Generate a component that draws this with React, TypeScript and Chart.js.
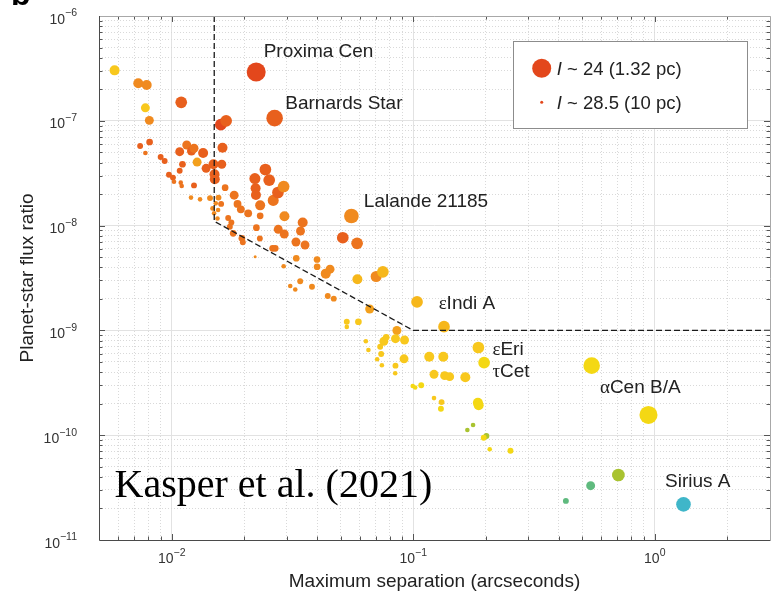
import React, { useEffect, useRef } from 'react';
import { Chart, registerables } from 'chart.js';

Chart.register(...registerables);

// ---- data (maximum separation in arcsec, planet/star flux ratio, planet I magnitude, host spectral class) ----
const separation = [
  0.0058, 0.00727, 0.00788, 0.00778, 0.00808, 0.01095, 0.0074, 0.0081, 0.00778, 0.009,
  0.00935, 0.00974, 0.01012, 0.01022, 0.01079, 0.01108, 0.01079, 0.01154, 0.01207, 0.01237,
  0.01349, 0.01274, 0.01388, 0.0109, 0.011, 0.01237, 0.01202, 0.0131, 0.01441, 0.01489,
  0.01504, 0.01508, 0.01597, 0.0168, 0.01623, 0.01612, 0.01664, 0.01562, 0.01522, 0.01475,
  0.01556, 0.01498, 0.01547, 0.01602, 0.01713, 0.01741, 0.01766, 0.01814, 0.01873, 0.01933,
  0.02073, 0.01797, 0.01952, 0.0197, 0.02216, 0.02238, 0.02668, 0.0221, 0.02225, 0.02232,
  0.02242, 0.02324, 0.02317, 0.02324, 0.02443, 0.02533, 0.02632, 0.02753, 0.02907, 0.02929,
  0.02761, 0.02924, 0.02617, 0.02683, 0.02907, 0.03269, 0.03414, 0.03486, 0.03564, 0.03279,
  0.03997, 0.04, 0.04525, 0.04343, 0.03096, 0.03248, 0.03404, 0.03809, 0.04427, 0.04688,
  0.05546, 0.05108, 0.05856, 0.05872, 0.07022, 0.07486, 0.066, 0.05307, 0.05307, 0.05929,
  0.1037, 0.08556, 0.1341, 0.07727, 0.07556, 0.08443, 0.09203, 0.06365, 0.07297, 0.06524,
  0.07366, 0.07089, 0.07416, 0.09159, 0.08443, 0.0842, 0.1165, 0.1332, 0.0995, 0.1019,
  0.1079, 0.1219, 0.131, 0.1302, 0.1861, 0.1965, 0.1219, 0.1349, 0.1415, 0.1643,
  0.1852, 0.1866, 0.1769, 0.1675, 0.2009, 0.1958, 0.2073, 0.2527, 0.548, 0.9417,
  0.7069, 0.5427, 0.4285, 1.315,
];

const fluxRatio = [
  3.03e-7, 2.28e-7, 2.2e-7, 1.33e-7, 1.01e-7, 1.5e-7, 5.75e-8, 6.28e-8, 4.93e-8, 4.51e-8,
  4.13e-8, 3.06e-8, 2.87e-8, 2.62e-8, 3.34e-8, 3.85e-8, 5.07e-8, 5.88e-8, 5.15e-8, 5.47e-8,
  4.93e-8, 4.04e-8, 3.52e-8, 2.57e-8, 2.39e-8, 2.42e-8, 1.85e-8, 1.78e-8, 1.83e-8, 3.85e-8,
  3.09e-8, 2.77e-8, 9.18e-8, 1.0e-7, 5.54e-8, 3.85e-8, 2.3e-8, 1.85e-8, 1.63e-8, 1.46e-8,
  1.41e-8, 1.31e-8, 1.17e-8, 1.61e-8, 1.18e-8, 9.76e-9, 1.07e-8, 1.95e-8, 1.61e-8, 1.43e-8,
  1.31e-8, 8.44e-9, 7.56e-9, 6.93e-9, 5.05e-9, 2.92e-7, 1.06e-7, 2.81e-8, 2.27e-8, 1.96e-8,
  9.55e-9, 1.56e-8, 7.53e-9, 1.24e-8, 3.43e-8, 2.72e-8, 1.74e-8, 2.07e-8, 2.36e-8, 1.23e-8,
  9.22e-9, 8.31e-9, 6.07e-9, 6.07e-9, 4.09e-9, 6.97e-9, 8.88e-9, 1.07e-8, 6.53e-9, 4.88e-9,
  4.75e-9, 4.05e-9, 3.84e-9, 3.48e-9, 2.65e-9, 2.46e-9, 2.94e-9, 2.61e-9, 2.13e-9, 2.01e-9,
  1.235e-8, 7.66e-9, 6.78e-9, 3.08e-9, 3.27e-9, 3.62e-9, 1.6e-9, 1.21e-9, 1.08e-9, 1.21e-9,
  1.87e-9, 9.98e-10, 1.085e-9, 8.59e-10, 7.87e-10, 8.33e-10, 8.1e-10, 7.87e-10, 6.99e-10, 6.5e-10,
  5.96e-10, 5.3e-10, 4.65e-10, 5.36e-10, 4.61e-10, 3.9e-10, 5.61e-10, 5.61e-10, 2.95e-10, 2.85e-10,
  3.0e-10, 2.26e-10, 2.07e-10, 1.79e-10, 6.87e-10, 4.92e-10, 3.81e-10, 3.7e-10, 3.62e-10, 3.57e-10,
  2.04e-10, 1.93e-10, 1.25e-10, 1.12e-10, 9.83e-11, 9.46e-11, 7.34e-11, 7.11e-11, 4.61e-10, 1.56e-10,
  4.17e-11, 3.3e-11, 2.36e-11, 2.19e-11,
];

const iMagnitude = [
  26.8, 26.8, 26.8, 27.1, 27.1, 26.3, 27.9, 27.7, 28.2, 27.9,
  27.9, 27.9, 27.9, 28.2, 27.9, 27.7, 27.1, 27.1, 27.1, 27.1,
  26.8, 27.1, 27.1, 28.2, 28.2, 27.9, 28.2, 28.2, 27.9, 26.8,
  26.8, 26.8, 26.3, 26.3, 26.8, 27.1, 27.7, 27.9, 28.2, 28.2,
  28.2, 28.2, 28.2, 27.9, 27.9, 27.9, 27.9, 27.1, 27.4, 27.4,
  27.4, 27.7, 27.7, 27.9, 28.5, 24.0, 24.8, 26.5, 26.8, 26.8,
  27.7, 26.8, 27.9, 27.7, 26.3, 26.3, 26.5, 26.3, 26.3, 26.8,
  27.1, 27.1, 27.7, 27.7, 28.2, 27.1, 27.1, 26.8, 27.1, 27.7,
  27.7, 27.7, 27.1, 26.8, 28.2, 28.2, 27.9, 27.9, 27.9, 27.9,
  25.4, 26.3, 26.3, 26.8, 26.5, 26.3, 27.1, 27.9, 28.2, 27.7,
  26.3, 27.1, 26.3, 27.7, 27.1, 27.1, 27.1, 28.2, 27.9, 28.2,
  27.9, 28.2, 28.2, 27.1, 27.9, 28.2, 26.8, 26.8, 28.2, 28.2,
  27.9, 28.2, 27.9, 27.9, 26.3, 26.3, 27.1, 27.1, 27.1, 26.8,
  26.8, 26.8, 28.2, 28.2, 27.9, 27.9, 28.2, 27.9, 24.8, 24.3,
  26.0, 27.1, 27.9, 25.4,
];

const spectralType = [
  'K2', 'M2', 'M2', 'K2', 'M2', 'M4', 'M4', 'M4', 'M3', 'M4',
  'M4', 'M4', 'M4', 'M3', 'M4', 'M4', 'M4', 'M3', 'M4', 'M3',
  'M4', 'M0', 'M4', 'M3', 'M3', 'M4', 'M2', 'M2', 'M2', 'M4',
  'M4', 'M4', 'M6', 'M4', 'M4', 'M4', 'M3', 'M2', 'M2', 'M2',
  'M2', 'M2', 'M2', 'M3', 'M3', 'M3', 'M3', 'M3', 'M3', 'M3',
  'M3', 'M3', 'M3', 'M3', 'M2', 'M6', 'M4', 'M4', 'M4', 'M4',
  'M3', 'M3', 'M3', 'M3', 'M4', 'M4', 'M3', 'M4', 'M2', 'M2',
  'M3', 'M3', 'M3', 'M3', 'M2', 'M3', 'M3', 'M3', 'M3', 'M2',
  'M2', 'M2', 'M2', 'M2', 'M2', 'M2', 'M2', 'M2', 'M2', 'M2',
  'M2', 'M4', 'M3', 'K5', 'M2', 'K5', 'M0', 'K2', 'K2', 'K2',
  'K5', 'M0', 'K5', 'K2', 'K2', 'K2', 'K2', 'K2', 'K2', 'K2',
  'K2', 'K2', 'K2', 'K2', 'K2', 'K2', 'K2', 'K2', 'G5', 'G5',
  'G5', 'K2', 'K2', 'G5', 'K2', 'G5', 'K2', 'K2', 'K2', 'K2',
  'G5', 'G5', 'F8', 'F8', 'F8', 'G5', 'G5', 'G5', 'G5', 'G5',
  'F8', 'F5', 'F5', 'A1',
];

const spectralColors: Record<string, string> = {
  M6: '#e3471c',
  M4: '#e8601d',
  M3: '#ec741e',
  M2: '#f08a1f',
  M0: '#f3a01d',
  K5: '#f6b71b',
  K2: '#f8c81d',
  G5: '#f4d814',
  F8: '#a9c330',
  F5: '#5fba7e',
  A1: '#3fb6c9',
};

// detection boundary (dashed)
const boundarySep = [0.015, 0.015, 0.1, 3];
const boundaryFlux = [1e-6, 1.1e-8, 1e-9, 1e-9];

// axes
const xRange = [0.005, 3];
const yRange = [1e-11, 1e-6];
const xMajorTicks = [0.01, 0.1, 1];
const xTickExponents = ['\u22122', '\u22121', '0'];
const yMajorTicks = [1e-11, 1e-10, 1e-9, 1e-8, 1e-7, 1e-6];
const yTickExponents = ['\u221211', '\u221210', '\u22129', '\u22128', '\u22127', '\u22126'];
const xTitle = 'Maximum separation (arcseconds)';
const yTitle = 'Planet-star flux ratio';

// annotations (left / baseline anchor in data units)
const starNames = ['Proxima Cen', 'Barnards Star', 'Lalande 21185', '\u03b5Indi A', '\u03b5Eri', '\u03c4Cet', '\u03b1Cen B/A', 'Sirius A'];
const starLabelSep = [0.02402, 0.02952, 0.06245, 0.1274, 0.2127, 0.2127, 0.5929, 1.103];
const starLabelFlux = [4.018e-7, 1.31e-7, 1.511e-8, 1.583e-9, 5.888e-10, 3.553e-10, 2.539e-10, 3.218e-11];

const creditText = 'Kasper et al. (2021)';
const creditSep = 0.0058;
const creditFlux = 2.572e-11;

const legendMagnitudes = [24, 28.5];
const legendLabels = ['I ~ 24 (1.32 pc)', 'I ~ 28.5 (10 pc)'];
const panelLetter = 'b';

const SANS = "'Liberation Sans', Arial, Helvetica, sans-serif";
const SERIF = "'Liberation Serif', 'Times New Roman', serif";

function radiusForMag(m: number) {
  const t = Math.max(0, Math.min(1, (28.5 - m) / 4.5));
  return 1.5 + 8 * Math.pow(t, 0.85);
}

function logTicks(min: number, max: number) {
  const out: number[] = [];
  for (let e = Math.floor(Math.log10(min)); e <= Math.ceil(Math.log10(max)); e++) {
    for (let m = 1; m <= 9; m++) {
      const v = Number((m * Math.pow(10, e)).toPrecision(6));
      if (v >= min * 0.999999 && v <= max * 1.000001) out.push(v);
    }
  }
  return out;
}

function isMajor(v: number) {
  const l = Math.log10(v);
  return Math.abs(l - Math.round(l)) < 1e-6;
}

const overlayPlugin = {
  id: 'overlay',
  afterDraw(chart: any) {
    const { ctx, chartArea: ca, scales } = chart;
    const xs = scales.x;
    const ys = scales.y;
    ctx.save();

    // inward tick marks
    ctx.lineWidth = 1;
    ctx.strokeStyle = '#555';
    for (const t of xs.ticks) {
      const v = t.value;
      if (v <= xRange[0] * 1.0001 || v >= xRange[1] * 0.9999) continue;
      const px = Math.round(xs.getPixelForValue(v)) + 0.5;
      const len = isMajor(v) ? 6 : 3.5;
      ctx.beginPath();
      ctx.moveTo(px, ca.bottom);
      ctx.lineTo(px, ca.bottom - len);
      ctx.moveTo(px, ca.top);
      ctx.lineTo(px, ca.top + len);
      ctx.stroke();
    }
    for (const t of ys.ticks) {
      const v = t.value;
      if (v <= yRange[0] * 1.0001 || v >= yRange[1] * 0.9999) continue;
      const py = Math.round(ys.getPixelForValue(v)) + 0.5;
      const len = isMajor(v) ? 6 : 3.5;
      ctx.beginPath();
      ctx.moveTo(ca.left, py);
      ctx.lineTo(ca.left + len, py);
      ctx.moveTo(ca.right, py);
      ctx.lineTo(ca.right - len, py);
      ctx.stroke();
    }

    // frame
    ctx.strokeStyle = '#a8a8a8';
    ctx.beginPath();
    ctx.moveTo(ca.left, ca.top + 0.5);
    ctx.lineTo(ca.right + 0.5, ca.top + 0.5);
    ctx.lineTo(ca.right + 0.5, ca.bottom);
    ctx.stroke();
    ctx.strokeStyle = '#4a4a4a';
    ctx.beginPath();
    ctx.moveTo(ca.left + 0.5, ca.top);
    ctx.lineTo(ca.left + 0.5, ca.bottom + 0.5);
    ctx.lineTo(ca.right + 0.5, ca.bottom + 0.5);
    ctx.stroke();

    // tick labels (10 with superscript exponent)
    ctx.fillStyle = '#333';
    ctx.textBaseline = 'alphabetic';
    const baseFont = `14px ${SANS}`;
    const expFont = `10.5px ${SANS}`;
    yMajorTicks.forEach((v, i) => {
      const py = ys.getPixelForValue(v);
      const right = ca.left - 22;
      ctx.font = expFont;
      const ew = ctx.measureText(yTickExponents[i]).width;
      ctx.textAlign = 'right';
      ctx.fillText(yTickExponents[i], right, py + 0.3);
      ctx.font = baseFont;
      ctx.fillText('10', right - ew, py + 7.5);
    });
    xMajorTicks.forEach((v, i) => {
      const px = xs.getPixelForValue(v);
      ctx.font = baseFont;
      const bw = ctx.measureText('10').width;
      ctx.font = expFont;
      const ew = ctx.measureText(xTickExponents[i]).width;
      const start = px - (bw + ew) / 2;
      ctx.textAlign = 'left';
      ctx.font = baseFont;
      ctx.fillText('10', start, ca.bottom + 22.5);
      ctx.font = expFont;
      ctx.fillText(xTickExponents[i], start + bw, ca.bottom + 15.5);
    });

    // star annotations
    ctx.fillStyle = '#222';
    ctx.textAlign = 'left';
    starNames.forEach((name, i) => {
      let x = xs.getPixelForValue(starLabelSep[i]);
      const y = ys.getPixelForValue(starLabelFlux[i]);
      let rest = name;
      if (/[\u03b1-\u03c9]/.test(name[0])) {
        ctx.font = `19px ${SERIF}`;
        ctx.fillText(name[0], x, y);
        x += ctx.measureText(name[0]).width;
        rest = name.slice(1);
      }
      ctx.font = `19px ${SANS}`;
      ctx.fillText(rest, x, y);
    });

    // credit
    ctx.fillStyle = '#000';
    ctx.font = `40px ${SERIF}`;
    ctx.fillText(creditText, xs.getPixelForValue(creditSep), ys.getPixelForValue(creditFlux));

    // legend
    const bx = ca.right - 257;
    const by = ca.top + 25;
    const bw = 234;
    const bh = 87;
    ctx.fillStyle = '#fff';
    ctx.fillRect(bx, by, bw, bh);
    ctx.strokeStyle = '#8c8c8c';
    ctx.lineWidth = 1;
    ctx.strokeRect(bx + 0.5, by + 0.5, bw, bh);
    legendMagnitudes.forEach((m, i) => {
      const cy = by + 27.3 + i * 34;
      const cx = bx + 28.7;
      ctx.beginPath();
      ctx.arc(cx, cy, radiusForMag(m), 0, Math.PI * 2);
      ctx.fillStyle = spectralColors.M6;
      ctx.fill();
      const label = legendLabels[i];
      const tx = bx + 43.7;
      ctx.fillStyle = '#222';
      ctx.font = `italic 18.5px ${SANS}`;
      ctx.fillText(label[0], tx, cy + 6.6);
      const w = ctx.measureText(label[0]).width;
      ctx.font = `18.5px ${SANS}`;
      ctx.fillText(label.slice(1), tx + w, cy + 6.6);
    });

    // panel letter (mostly outside the frame)
    ctx.fillStyle = '#000';
    ctx.font = `bold 32px ${SANS}`;
    ctx.fillText(panelLetter, 11, 5);

    ctx.restore();
  },
};

export default function App() {
  const ref = useRef<HTMLCanvasElement | null>(null);

  useEffect(() => {
    const canvas = ref.current;
    if (!canvas) return;
    Chart.defaults.font.family = SANS;

    const points = separation.map((x, i) => ({ x, y: fluxRatio[i] }));
    const boundary = boundarySep.map((x, i) => ({ x, y: boundaryFlux[i] }));

    const gridColor = (c: any) => (isMajor(c.tick.value) ? '#e2e2e2' : '#d9d9d9');
    const gridDash = (c: any) => (isMajor(c.tick.value) ? [] : [1, 2]);

    const chart = new Chart(canvas, {
      type: 'scatter',
      data: {
        datasets: [
          {
            type: 'line',
            label: 'boundary',
            data: boundary,
            borderColor: '#1a1a1a',
            borderWidth: 1.3,
            borderDash: [6, 3],
            pointRadius: 0,
            fill: false,
            tension: 0,
            order: 0,
          } as any,
          {
            label: 'planets',
            data: points,
            pointRadius: (c: any) => radiusForMag(iMagnitude[c.dataIndex]),
            pointBackgroundColor: (c: any) => spectralColors[spectralType[c.dataIndex]],
            pointBorderWidth: 0,
            pointBorderColor: 'rgba(0,0,0,0)',
            pointHoverRadius: (c: any) => radiusForMag(iMagnitude[c.dataIndex]),
            order: 1,
          } as any,
        ],
      },
      options: {
        animation: false,
        responsive: false,
        maintainAspectRatio: false,
        devicePixelRatio: 1,
        events: [],
        layout: { padding: { left: 0, top: 16, right: 13, bottom: 0 } },
        plugins: {
          legend: { display: false },
          tooltip: { enabled: false },
        },
        scales: {
          x: {
            type: 'logarithmic',
            position: 'bottom',
            min: xRange[0],
            max: xRange[1],
            afterBuildTicks: (axis: any) => {
              axis.ticks = logTicks(xRange[0], xRange[1]).map((value) => ({ value }));
            },
            afterFit: (scale: any) => {
              scale.height = 56;
            },
            ticks: { display: false },
            grid: { color: gridColor, lineWidth: 1, drawTicks: false },
            border: { display: false, dash: gridDash },
            title: {
              display: true,
              text: xTitle,
              color: '#222',
              font: { size: 19, family: SANS },
              padding: { top: 0, bottom: 2.6 },
            },
          },
          y: {
            type: 'logarithmic',
            position: 'left',
            min: yRange[0],
            max: yRange[1],
            afterBuildTicks: (axis: any) => {
              axis.ticks = logTicks(yRange[0], yRange[1]).map((value) => ({ value }));
            },
            afterFit: (scale: any) => {
              scale.width = 99;
            },
            ticks: { display: false },
            grid: { color: gridColor, lineWidth: 1, drawTicks: false },
            border: { display: false, dash: gridDash },
            title: {
              display: true,
              text: yTitle,
              color: '#222',
              font: { size: 19, family: SANS },
              padding: { top: 16, bottom: 0 },
            },
          },
        },
      } as any,
      plugins: [overlayPlugin],
    });

    return () => chart.destroy();
  }, []);

  return (
    <div style={{ position: 'absolute', left: 0, top: 0, width: 783, height: 596, background: '#fff' }}>
      <canvas ref={ref} width={783} height={596} style={{ display: 'block', width: 783, height: 596 }} />
    </div>
  );
}
